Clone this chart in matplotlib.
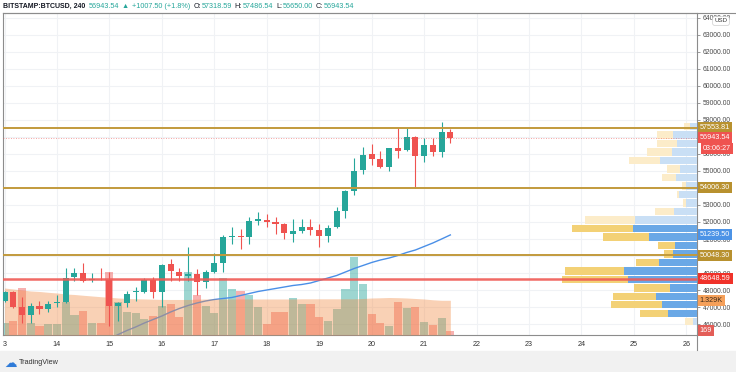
import numpy as np
import matplotlib.pyplot as plt
from matplotlib.lines import Line2D
from matplotlib.patches import Rectangle
from matplotlib.transforms import blended_transform_factory

plt.rcParams['font.family'] = ['Liberation Sans', 'DejaVu Sans']

# BITSTAMP:BTCUSD, 240 min candles, first one = 13th 00:00
start_day = 13
opens = [47350, 47880, 47000, 46530, 47060, 46880, 47240, 47300, 48770, 49000,
         48590, 48650, 48590, 47060, 47250, 47870, 47900, 48590, 47900, 49510,
         49080, 48820, 48920, 48490, 49080, 49610, 51140, 51200, 51140, 52080,
         52120, 51980, 51860, 51280, 51490, 51690, 51510, 51200, 51690, 52670,
         53820, 55060, 55980, 55710, 55220, 56340, 56240, 57020, 55900, 56530,
         56140, 57318.59]
highs = [47950, 47940, 47590, 47240, 47350, 47350, 47710, 49300, 49300, 49590,
         49000, 49300, 49060, 47300, 47960, 48200, 48690, 48750, 49530, 49840,
         49280, 50510, 49220, 49180, 50200, 51240, 51690, 51570, 52280, 52570,
         52450, 52310, 51920, 52180, 52180, 52160, 51880, 51820, 52870, 53880,
         55750, 56390, 56590, 56180, 56340, 57550, 57510, 57080, 56920, 56920,
         57860, 57486.54]
lows = [47300, 46940, 46060, 46060, 46590, 46710, 47000, 47240, 48530, 48470,
        48470, 48590, 45880, 46180, 47000, 47350, 47810, 47550, 47000, 48530,
        48550, 48530, 47710, 48130, 48980, 49080, 50690, 50410, 50690, 51820,
        51720, 51270, 51000, 50810, 51340, 51240, 50550, 50840, 51630, 52220,
        53590, 54810, 55350, 55160, 55000, 55780, 56180, 54020, 55510, 55900,
        55840, 56650.00]
closes = [47880, 47000, 46530, 47060, 46870, 47180, 47300, 48710, 49000, 48530,
          48650, 48620, 47060, 47240, 47750, 47940, 48590, 47900, 49470, 49120,
          48840, 48940, 48450, 49080, 49570, 51140, 51200, 51100, 52060, 52160,
          51980, 51900, 51340, 51470, 51690, 51510, 51180, 51670, 52650, 53820,
          55000, 55940, 55710, 55220, 56340, 56180, 57020, 55900, 56530, 56100,
          57310, 56943.54]
volumes = [471, 548, 1789, 471, 345, 421, 421, 1275, 766, 919,
           471, 471, 2401, 1275, 892, 831, 601, 728, 1111, 1187,
           701, 2401, 1532, 1122, 831, 2172, 1762, 1685, 1532, 1084,
           421, 892, 892, 1406, 1187, 1187, 678, 536, 984, 1750,
           2999, 1942, 793, 448, 356, 1252, 1023, 1072, 486, 383,
           663, 169]
volume_ma = [1800, 1762, 1724, 1685, 1666, 1635, 1609, 1570, 1551, 1521,
             1494, 1467, 1444, 1417, 1398, 1386, 1379, 1371, 1363, 1360,
             1360, 1360, 1371, 1379, 1379, 1379, 1379, 1379, 1379, 1379,
             1379, 1379, 1379, 1379, 1386, 1386, 1386, 1386, 1386, 1386,
             1386, 1398, 1417, 1425, 1436, 1429, 1417, 1398, 1379, 1348,
             1329, 1329]
price_ma = [np.nan] * 12 + [
    45118, 45382, 45618, 45824, 46059, 46265, 46471, 46706, 46912, 47088,
    47235, 47353, 47441, 47500, 47559, 47676, 47794, 47912, 48000, 48088,
    48176, 48265, 48324, 48412, 48559, 48706, 48853, 49059, 49265, 49441,
    49618, 49765, 49882, 50029, 50206, 50353, 50559, 50765, 51000, 51239.50]

# visible-range volume profile, rows listed top to bottom
vp_high, vp_low = 57860, 45880
vp_up = [70, 240, 200, 255, 370, 170, 210, 110, 177, 110, 230, 620,
         637, 477, 220, 243, 377, 730, 693, 270, 410, 353, 287, 37]
vp_down = [60, 160, 200, 244, 310, 133, 143, 43, 20, 27, 190, 500,
           613, 467, 170, 87, 233, 587, 657, 357, 433, 510, 283, 83]
value_area_rows = range(12, 23)

gold_levels = [57553.81, 54006.30, 50048.30]
red_level = 48648.59
last_price = 56943.54

price_ticks = list(range(46000, 64001, 1000))
hidden_ticks = [57000, 54000, 50000]   # fully covered by the tags
day_ticks = list(range(13, 27))
day_labels = ['3'] + [str(d) for d in range(14, 27)]

header = [('BITSTAMP:BTCUSD, 240', '#131722', 'bold', 0),
          ('56943.54', '#26a69a', 'normal', 2.2),
          ('\u25b2', '#26a69a', 'normal', 2.2),
          ('+1007.50 (+1.8%)', '#26a69a', 'normal', 2.2),
          ('O:', '#131722', 'normal', 2.2), ('57318.59', '#26a69a', 'normal', 0.3),
          ('H:', '#131722', 'normal', 2.2), ('57486.54', '#26a69a', 'normal', 0.3),
          ('L:', '#131722', 'normal', 2.2), ('56650.00', '#26a69a', 'normal', 0.3),
          ('C:', '#131722', 'normal', 2.2), ('56943.54', '#26a69a', 'normal', 0.3)]

UP, DOWN = '#26a69a', '#ef5350'
W, H = 736, 372

fig = plt.figure(figsize=(W / 100, H / 100), dpi=100)
ax_vol = fig.add_axes([3 / W, 37 / H, 694 / W, 322 / H])
ax_price = ax_vol.twinx()
ax_vp = ax_price.twiny()

t = start_day + np.arange(len(opens)) / 6
o, hi, lo, c = map(np.array, (opens, highs, lows, closes))
up = c >= o

# grid
ax_vol.set_xticks(day_ticks)
ax_vol.set_xticklabels(day_labels)
ax_vol.grid(axis='x', color='#f0f2f5', lw=0.8)
ax_vol.set_axisbelow(True)
grid_tf = blended_transform_factory(ax_vol.transAxes, ax_price.transData)
for p in price_ticks:
    ax_vol.plot([0, 1], [p, p], transform=grid_tf, color='#f0f2f5', lw=0.8, zorder=0)

# volume bars, price MA (under the volume MA area), volume MA area
ax_vol.bar(t, volumes, width=0.155, color=np.where(up, UP, DOWN), alpha=0.45, lw=0, zorder=1)
ax_vol.plot(t, price_ma, transform=ax_price.transData, color='#4a8fe7', lw=1.0, zorder=2)
ax_vol.fill_between(t, volume_ma, color='#f28c46', alpha=0.4, lw=0, zorder=3)

# candles
cols = np.where(up, UP, DOWN)
ax_price.vlines(t, lo, hi, colors=cols, lw=0.8, zorder=3)
ax_price.bar(t, np.maximum(np.abs(c - o), 45), bottom=np.minimum(o, c), width=0.115,
             color=cols, lw=0, zorder=4)

# volume profile
n_rows = len(vp_up)
row_h = (vp_high - vp_low) / n_rows
centers = vp_high - (np.arange(n_rows) + 0.5) * row_h
in_va = np.array([i in value_area_rows for i in range(n_rows)])
ax_vp.barh(centers, vp_up, height=row_h * 0.86, left=0,
           color=np.where(in_va, '#6aa8e6', '#c9dff5'), lw=0, zorder=2)
ax_vp.barh(centers, vp_down, height=row_h * 0.86, left=vp_up,
           color=np.where(in_va, '#f3d176', '#fcecc9'), lw=0, zorder=2)

# horizontal levels
for lvl in gold_levels:
    ax_vp.axhline(lvl, color='#c29a3c', lw=1.4, zorder=5)
ax_vp.axhline(red_level, color='#ef5a55', lw=1.8, alpha=0.9, zorder=5)
ax_vp.axhline(last_price, color='#ef5350', lw=0.6, ls=(0, (1, 2)), alpha=0.7, zorder=5)

# limits
ax_vol.set_xlim(12.971, 26.203)
ax_vol.set_ylim(0, 12330)
ax_price.set_ylim(45353, 64294)
vp_total_max = max(u + d for u, d in zip(vp_up, vp_down))
ax_vp.set_xlim(vp_total_max / 0.1945, 0)

# axes styling
ax_vol.set_yticks([])
ax_vol.tick_params(axis='x', length=0, pad=4, labelsize=5.2, labelcolor='#333333')
ax_price.set_yticks(price_ticks)
ax_price.set_yticklabels(['' if p in hidden_ticks else f'{p:.2f}' for p in price_ticks])
ax_price.tick_params(axis='y', length=2, width=0.6, color='#888888', pad=2,
                     labelsize=4.9, labelcolor='#4a4a4a')
ax_vp.xaxis.set_visible(False)
for a in (ax_price, ax_vp):
    for s in a.spines.values():
        s.set_visible(False)
for s in ax_vol.spines.values():
    s.set_color('#8c8c8c')
    s.set_linewidth(0.8)

# right-side tags
tag_tf = ax_vp.get_yaxis_transform()
price_tags = [(57553.81, '57553.81', '#b8912f', 'white'),
              (56943.54, '56943.54', '#ef5350', 'white'),
              (54006.30, '54006.30', '#b8912f', 'white'),
              (51239.50, '51239.50', '#4c93e6', 'white'),
              (50048.30, '50048.30', '#b8912f', 'white'),
              (48648.59, '48648.59', '#f0322a', 'white')]
for val, txt, bg, fg in price_tags:
    ax_vp.text(1.004, val, txt, transform=tag_tf, ha='left', va='center',
               fontsize=5.2, color=fg, zorder=10, clip_on=False,
               bbox=dict(boxstyle='square,pad=0.28', fc=bg, ec='none'))
ax_vp.annotate('03:06:27', xy=(1.0, last_price), xycoords=tag_tf, xytext=(4.2, -7.8),
               textcoords='offset points', ha='left', va='center', fontsize=5.2,
               color='white', zorder=10, annotation_clip=False,
               bbox=dict(boxstyle='square,pad=0.28', fc='#ef5350', ec='none'))
vol_tf = blended_transform_factory(ax_vp.transAxes, ax_vol.transData)
for val, txt, bg, fg in [(1329, '1.329K', '#f5a05a', '#3a2a1a'),
                         (169, '169', '#e35d57', 'white')]:
    ax_vp.text(1.004, val, txt, transform=vol_tf, ha='left', va='center',
               fontsize=5.2, color=fg, zorder=10, clip_on=False,
               bbox=dict(boxstyle='square,pad=0.28', fc=bg, ec='none'))

fig.text(721 / W, 1 - 21 / H, 'USD', ha='center', va='center', fontsize=4.4,
         color='#333333', bbox=dict(boxstyle='round,pad=0.3', fc='white', ec='#cccccc', lw=0.5))

# frame bits outside the plot
fig.add_artist(Line2D([3 / W, 1], [1 - 13 / H] * 2, color='#8c8c8c', lw=0.8))
fig.add_artist(Line2D([697 / W] * 2, [1 - 335 / H, 1 - 350 / H], color='#8c8c8c', lw=0.8))
fig.add_artist(Rectangle((0, 0), 1, 21 / H, transform=fig.transFigure,
                         color='#f1f1f1', zorder=-1))

# header
prev = fig.text(3 / W, 1 - 6.5 / H, header[0][0], color=header[0][1],
                weight=header[0][2], fontsize=5.0, va='center', ha='left')
for txt, col, wt, gap in header[1:]:
    prev = ax_vol.annotate(txt, xy=(1, 0.5), xycoords=prev, xytext=(gap, 0),
                           textcoords='offset points', ha='left', va='center',
                           color=col, weight=wt, fontsize=5.2, annotation_clip=False)

# footer logo
fig.text(11 / W, 1 - 363 / H, '\u2601', family='DejaVu Sans', fontsize=9,
         color='#2f7bd8', ha='center', va='center')
fig.text(19 / W, 1 - 363 / H, 'TradingView', fontsize=5.2, color='#333333',
         ha='left', va='center')

fig.savefig('out.png', dpi=100)
